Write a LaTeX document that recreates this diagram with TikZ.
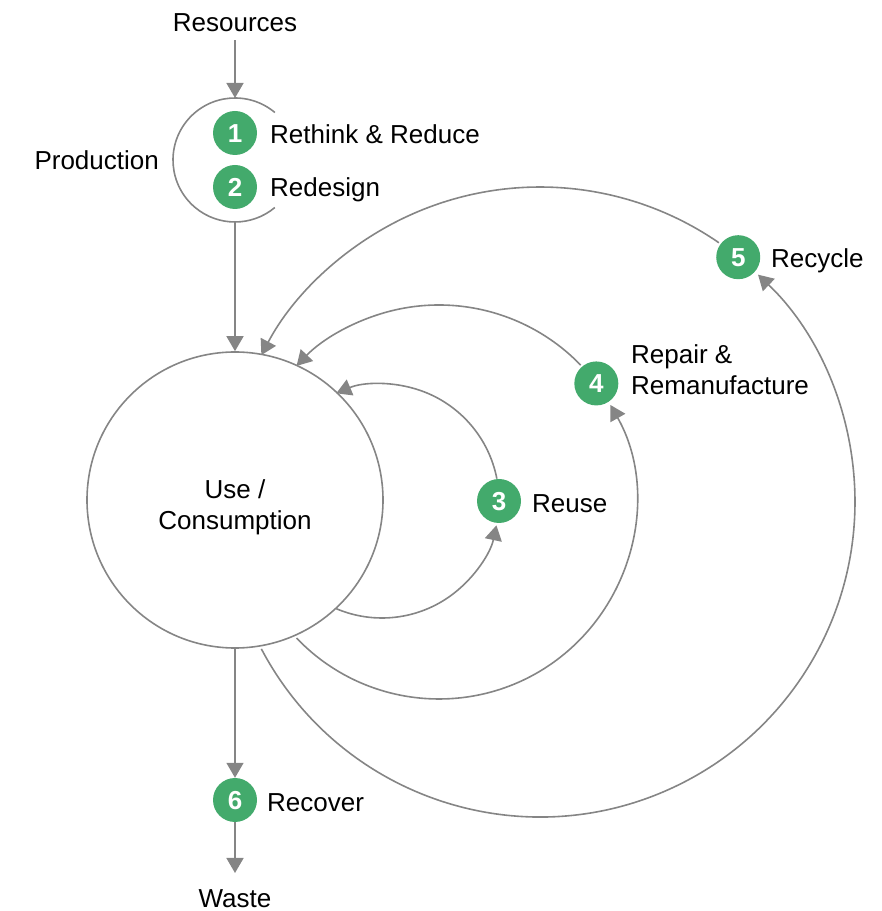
\documentclass[tikz,border=0pt]{standalone}
\usepackage{fontspec}
\setmainfont{Liberation Sans}
\usetikzlibrary{arrows.meta,calc}
\definecolor{lg}{HTML}{858585}
\definecolor{bg}{HTML}{43AA6C}
\begin{document}
\begin{tikzpicture}[x=1pt,y=1pt,
  line/.style={draw=lg,line width=1.6pt},
  arr/.style={line,-{Triangle[width=17pt,length=15pt]}},
  badge/.style={circle,fill=bg,minimum size=44pt,inner sep=0pt,text=white,
    font=\fontsize{26}{26}\selectfont\bfseries,text height=18.6pt,text depth=0pt},
  lbl/.style={font=\fontsize{26}{31}\selectfont,inner sep=0pt,text height=18.6pt,text depth=0pt},
  lblm/.style={font=\fontsize{26}{31}\selectfont,inner sep=0pt}]
\useasboundingbox (0,0) rectangle (882,911);
% centres
\coordinate (prodc) at (235,751);
\coordinate (c3) at (382,410);
\coordinate (c4) at (439,409);
\coordinate (c5) at (540,409);
% top
\node[lbl] (res) at (235,889) {Resources};
\coordinate (prodtop) at (235,813);
\coordinate (prodbot) at (235,689);
\draw[line] ($(prodc)+(50:62)$) arc[start angle=50,end angle=310,radius=62];
\draw[arr,shorten <=9pt] (res.south) -- (prodtop);
\node[badge] (b1) at (235,778) {1};
\node[badge] (b2) at (235,724) {2};
\node[lbl,anchor=west] (t1) at (270,777) {Rethink \& Reduce};
\node[lbl,anchor=west] (t2) at (270,724) {Redesign};
\node[lbl,anchor=east] (tp) at (159,751) {Production};
% main circle
\node[circle,draw=lg,line width=1.6pt,minimum size=296pt,inner sep=0pt] (use) at (235,411) {};
\node[lblm,align=center] (usetxt) at (235,404) {Use /\\Consumption};
\draw[arr] (prodbot) -- (use.north);
% recover / waste
\node[badge] (b6) at (235,111) {6};
\node[lbl,anchor=west] (t6) at (267,109) {Recover};
\draw[arr] (use.south) -- (b6.north);
\coordinate (wasteend) at (235,38);
\draw[arr] (b6.south) -- (wasteend);
\node[lbl] (waste) at (235,13) {Waste};
% loop 3
\node[badge] (b3) at ($(c3)+(0:117)$) {3};
\node[lbl,anchor=west] (t3) at (532,408) {Reuse};
\draw[arr] ($(c3)+(247:117)$) arc[start angle=247,end angle=348,radius=117];
\draw[arr] ($(c3)+(11:117)$) arc[start angle=11,end angle=113,radius=117];
% loop 4
\node[badge] (b4) at ($(c4)+(37:197)$) {4};
\node[lblm,anchor=west,align=left] (t4) at (631,541) {Repair \&\\Remanufacture};
\draw[arr] ($(c4)+(223.7:197)$) arc[start angle=223.7,end angle=389.5,radius=197];
\draw[arr] ($(c4)+(44:197)$) arc[start angle=44,end angle=136.3,radius=197];
% loop 5
\node[badge] (b5) at ($(c5)+(51:315)$) {5};
\node[lbl,anchor=west] (t5) at (771,653) {Recycle};
\draw[arr] ($(c5)+(207.8:315)$) arc[start angle=207.8,end angle=406.2,radius=315];
\draw[arr] ($(c5)+(55.4:315)$) arc[start angle=55.4,end angle=152.2,radius=315];
\end{tikzpicture}
\end{document}
